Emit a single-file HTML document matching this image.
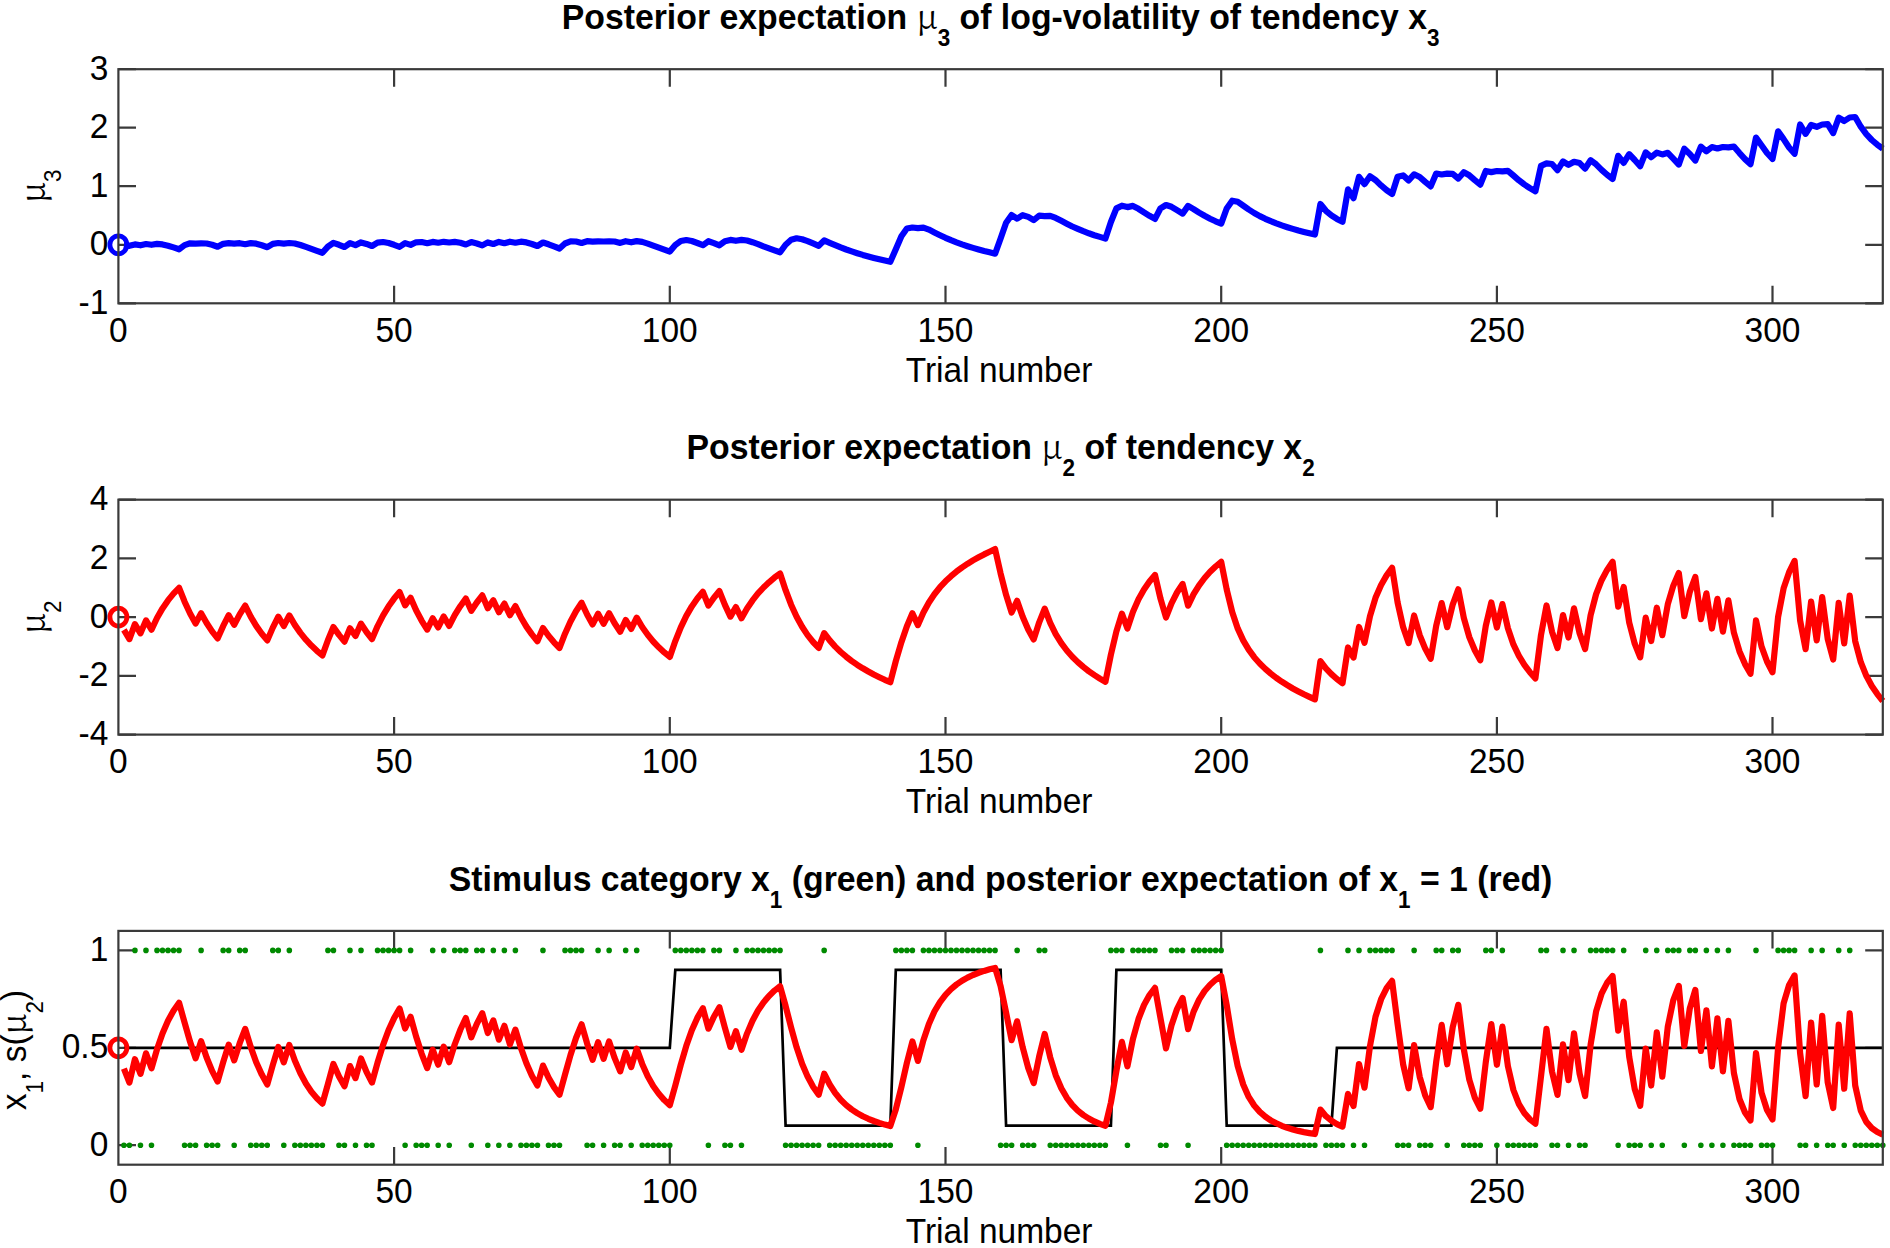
<!DOCTYPE html>
<html><head><meta charset="utf-8"><title>HGF trajectories</title><style>
html,body{margin:0;padding:0;background:#fff;}
body{width:1890px;height:1248px;overflow:hidden;}
svg{display:block;}
.tk{font-family:"Liberation Sans",Arial,Helvetica,sans-serif;font-size:33.5px;fill:#000;}
.ti{font-family:"Liberation Sans",Arial,Helvetica,sans-serif;font-size:33.8px;font-weight:bold;fill:#000;}
.sym{font-family:"Noto Serif CJK SC","Liberation Serif",serif;font-weight:normal;}
.sub{font-size:22.5px;}
.subn{font-size:22.5px;font-weight:normal;}
</style></head><body>
<svg width="1890" height="1248" viewBox="0 0 1890 1248">
<rect width="1890" height="1248" fill="#fff"/>
<path d="M394.1,303.3V285.7M394.1,69.2V86.8M669.8,303.3V285.7M669.8,69.2V86.8M945.5,303.3V285.7M945.5,69.2V86.8M1221.2,303.3V285.7M1221.2,69.2V86.8M1496.9,303.3V285.7M1496.9,69.2V86.8M1772.5,303.3V285.7M1772.5,69.2V86.8M118.4,303.3H136.0M1882.8,303.3H1865.2M118.4,244.8H136.0M1882.8,244.8H1865.2M118.4,186.2H136.0M1882.8,186.2H1865.2M118.4,127.7H136.0M1882.8,127.7H1865.2M118.4,69.2H136.0M1882.8,69.2H1865.2" stroke="#3a3a3a" stroke-width="2.2" fill="none"/>
<path d="M394.1,734.6V717.0M394.1,499.7V517.3M669.8,734.6V717.0M669.8,499.7V517.3M945.5,734.6V717.0M945.5,499.7V517.3M1221.2,734.6V717.0M1221.2,499.7V517.3M1496.9,734.6V717.0M1496.9,499.7V517.3M1772.5,734.6V717.0M1772.5,499.7V517.3M118.4,734.6H136.0M1882.8,734.6H1865.2M118.4,675.9H136.0M1882.8,675.9H1865.2M118.4,617.1H136.0M1882.8,617.1H1865.2M118.4,558.4H136.0M1882.8,558.4H1865.2M118.4,499.7H136.0M1882.8,499.7H1865.2" stroke="#3a3a3a" stroke-width="2.2" fill="none"/>
<path d="M394.1,1164.7V1147.1M394.1,930.9V948.5M669.8,1164.7V1147.1M669.8,930.9V948.5M945.5,1164.7V1147.1M945.5,930.9V948.5M1221.2,1164.7V1147.1M1221.2,930.9V948.5M1496.9,1164.7V1147.1M1496.9,930.9V948.5M1772.5,1164.7V1147.1M1772.5,930.9V948.5M118.4,1145.2H136.0M1882.8,1145.2H1865.2M118.4,1047.8H136.0M1882.8,1047.8H1865.2M118.4,950.4H136.0M1882.8,950.4H1865.2" stroke="#3a3a3a" stroke-width="2.2" fill="none"/>
<polyline points="123.9,245.1 129.4,245.8 134.9,244.4 140.5,245.3 146.0,244.0 151.5,244.8 157.0,243.9 162.5,244.4 168.0,245.7 173.5,247.4 179.1,249.3 184.6,245.1 190.1,243.3 195.6,243.6 201.1,243.4 206.6,243.5 212.1,244.8 217.6,246.7 223.2,243.8 228.7,243.2 234.2,243.6 239.7,243.2 245.2,244.2 250.7,243.1 256.2,243.7 261.8,245.3 267.3,247.2 272.8,243.9 278.3,243.0 283.8,243.6 289.3,243.0 294.8,243.5 300.4,245.0 305.9,246.9 311.4,248.9 316.9,250.9 322.4,252.8 327.9,246.6 333.4,242.9 339.0,244.8 344.5,247.0 350.0,243.1 355.5,245.1 361.0,242.4 366.5,243.9 372.0,246.0 377.5,242.7 383.1,242.0 388.6,243.0 394.1,244.8 399.6,246.8 405.1,243.1 410.6,244.9 416.1,242.3 421.7,242.0 427.2,243.2 432.7,241.9 438.2,242.7 443.7,241.8 449.2,242.5 454.7,241.9 460.3,242.8 465.8,244.5 471.3,242.1 476.8,243.5 482.3,245.4 487.8,242.4 493.3,244.0 498.9,241.9 504.4,243.2 509.9,241.7 515.4,242.7 520.9,241.7 526.4,242.4 531.9,244.0 537.4,246.0 543.0,242.5 548.5,244.3 554.0,246.4 559.5,248.5 565.0,243.5 570.5,241.4 576.0,241.5 581.6,243.0 587.1,241.2 592.6,241.6 598.1,241.3 603.6,241.5 609.1,241.3 614.6,241.5 620.2,242.9 625.7,241.2 631.2,242.3 636.7,241.1 642.2,241.9 647.7,243.6 653.2,245.6 658.8,247.6 664.3,249.6 669.8,251.6 675.3,245.0 680.8,241.0 686.3,240.0 691.8,241.0 697.3,243.0 702.9,245.2 708.4,241.2 713.9,243.1 719.4,245.3 724.9,241.2 730.4,239.9 735.9,240.8 741.5,239.9 747.0,240.5 752.5,242.2 758.0,244.2 763.5,246.4 769.0,248.4 774.5,250.4 780.1,252.3 785.6,244.7 791.1,239.8 796.6,238.3 802.1,239.2 807.6,241.1 813.1,243.4 818.7,245.8 824.2,240.4 829.7,242.8 835.2,245.1 840.7,247.4 846.2,249.5 851.7,251.4 857.2,253.2 862.8,254.9 868.3,256.4 873.8,257.9 879.3,259.3 884.8,260.6 890.3,261.8 895.8,249.3 901.4,236.3 906.9,228.5 912.4,227.5 917.9,228.1 923.4,227.6 928.9,229.6 934.4,232.4 940.0,235.2 945.5,237.8 951.0,240.2 956.5,242.4 962.0,244.4 967.5,246.2 973.0,247.9 978.6,249.5 984.1,251.0 989.6,252.3 995.1,253.7 1000.6,238.5 1006.1,222.7 1011.6,215.1 1017.1,218.6 1022.7,215.2 1028.2,216.9 1033.7,220.1 1039.2,215.7 1044.7,216.1 1050.2,215.8 1055.7,217.9 1061.3,220.8 1066.8,223.7 1072.3,226.5 1077.8,228.9 1083.3,231.2 1088.8,233.3 1094.3,235.2 1099.9,236.9 1105.4,238.6 1110.9,222.0 1116.4,208.4 1121.9,205.7 1127.4,207.1 1132.9,205.9 1138.5,208.8 1144.0,212.4 1149.5,215.8 1155.0,218.9 1160.5,208.3 1166.0,205.0 1171.5,206.8 1177.0,210.1 1182.6,213.6 1188.1,205.9 1193.6,209.1 1199.1,212.6 1204.6,215.8 1210.1,218.7 1215.6,221.3 1221.2,223.6 1226.7,208.5 1232.2,200.7 1237.7,201.8 1243.2,205.6 1248.7,209.5 1254.2,213.0 1259.8,216.1 1265.3,218.8 1270.8,221.2 1276.3,223.4 1281.8,225.4 1287.3,227.2 1292.8,228.9 1298.4,230.5 1303.9,231.9 1309.4,233.3 1314.9,234.6 1320.4,204.0 1325.9,210.8 1331.4,215.4 1336.9,218.9 1342.5,221.8 1348.0,189.4 1353.5,198.2 1359.0,176.8 1364.5,184.1 1370.0,176.3 1375.5,180.1 1381.1,185.4 1386.6,190.1 1392.1,194.0 1397.6,176.8 1403.1,175.4 1408.6,180.4 1414.1,174.3 1419.7,177.0 1425.2,181.9 1430.7,186.4 1436.2,173.5 1441.7,174.5 1447.2,173.6 1452.7,173.9 1458.3,178.5 1463.8,172.2 1469.3,175.3 1474.8,180.1 1480.3,184.6 1485.8,171.0 1491.3,172.1 1496.9,171.0 1502.4,171.4 1507.9,170.9 1513.4,175.5 1518.9,180.3 1524.4,184.5 1529.9,188.1 1535.4,191.3 1541.0,165.8 1546.5,163.4 1552.0,164.0 1557.5,170.1 1563.0,161.5 1568.5,164.9 1574.0,161.8 1579.6,163.1 1585.1,168.6 1590.6,160.2 1596.1,164.3 1601.6,169.9 1607.1,174.8 1612.6,178.9 1618.2,155.8 1623.7,162.9 1629.2,154.2 1634.7,160.0 1640.2,166.2 1645.7,152.4 1651.2,157.2 1656.8,152.6 1662.3,154.4 1667.8,152.8 1673.3,158.7 1678.8,164.5 1684.3,148.7 1689.8,153.9 1695.3,160.5 1700.9,146.7 1706.4,151.3 1711.9,147.1 1717.4,148.5 1722.9,147.0 1728.4,147.3 1733.9,146.6 1739.5,153.1 1745.0,159.1 1750.5,164.1 1756.0,137.6 1761.5,145.2 1767.0,153.0 1772.5,158.9 1778.1,131.4 1783.6,139.1 1789.1,147.5 1794.6,153.8 1800.1,124.5 1805.6,133.8 1811.1,125.0 1816.7,126.8 1822.2,124.5 1827.7,124.1 1833.2,133.0 1838.7,117.7 1844.2,121.0 1849.7,117.5 1855.2,117.0 1860.8,126.7 1866.3,134.2 1871.8,140.0 1877.3,144.7 1882.8,148.6" fill="none" stroke="#0000ff" stroke-width="6.2" stroke-linejoin="round"/>
<ellipse cx="118.4" cy="244.8" rx="8.5" ry="9.0" fill="none" stroke="#0000ff" stroke-width="4.8"/>
<rect x="118.4" y="69.2" width="1764.4" height="234.1" stroke="#3a3a3a" stroke-width="2.2" fill="none"/>
<text class="tk" transform="translate(118.4,341.9) scale(1,1.06)" text-anchor="middle">0</text>
<text class="tk" transform="translate(394.1,341.9) scale(1,1.06)" text-anchor="middle">50</text>
<text class="tk" transform="translate(669.8,341.9) scale(1,1.06)" text-anchor="middle">100</text>
<text class="tk" transform="translate(945.5,341.9) scale(1,1.06)" text-anchor="middle">150</text>
<text class="tk" transform="translate(1221.2,341.9) scale(1,1.06)" text-anchor="middle">200</text>
<text class="tk" transform="translate(1496.9,341.9) scale(1,1.06)" text-anchor="middle">250</text>
<text class="tk" transform="translate(1772.5,341.9) scale(1,1.06)" text-anchor="middle">300</text>
<text class="tk" transform="translate(108.3,313.8) scale(1,1.06)" text-anchor="end">-1</text>
<text class="tk" transform="translate(108.3,255.3) scale(1,1.06)" text-anchor="end">0</text>
<text class="tk" transform="translate(108.3,196.8) scale(1,1.06)" text-anchor="end">1</text>
<text class="tk" transform="translate(108.3,138.2) scale(1,1.06)" text-anchor="end">2</text>
<text class="tk" transform="translate(108.3,79.7) scale(1,1.06)" text-anchor="end">3</text>
<text class="tk" transform="translate(999.1,381.5) scale(1,1.06)" text-anchor="middle">Trial number</text>
<polyline points="123.9,629.9 129.4,639.1 134.9,624.1 140.5,633.3 146.0,620.4 151.5,629.7 157.0,618.0 162.5,608.4 168.0,600.4 173.5,593.6 179.1,587.8 184.6,601.7 190.1,613.5 195.6,623.5 201.1,613.2 206.6,623.0 212.1,631.4 217.6,638.4 223.2,625.9 228.7,615.2 234.2,624.8 239.7,614.4 245.2,605.6 250.7,616.6 256.2,625.9 261.8,633.7 267.3,640.4 272.8,627.6 278.3,616.7 283.8,626.0 289.3,615.4 294.8,624.9 300.4,632.9 305.9,639.7 311.4,645.6 316.9,650.8 322.4,655.4 327.9,640.2 333.4,627.0 339.0,634.9 344.5,641.6 350.0,628.3 355.5,636.0 361.0,623.6 366.5,632.0 372.0,639.1 377.5,626.3 383.1,615.4 388.6,606.3 394.1,598.6 399.6,592.1 405.1,605.4 410.6,597.8 416.1,610.3 421.7,620.8 427.2,629.6 432.7,618.3 438.2,627.4 443.7,616.5 449.2,625.9 454.7,615.2 460.3,606.2 465.8,598.6 471.3,610.8 476.8,602.5 482.3,595.4 487.8,608.2 493.3,600.2 498.9,612.3 504.4,603.6 509.9,615.2 515.4,606.1 520.9,617.2 526.4,626.6 531.9,634.4 537.4,641.2 543.0,628.0 548.5,635.7 554.0,642.3 559.5,648.0 565.0,633.7 570.5,621.5 576.0,611.2 581.6,602.7 587.1,614.5 592.6,624.4 598.1,613.8 603.6,623.7 609.1,613.3 614.6,623.3 620.2,631.7 625.7,620.0 631.2,628.9 636.7,617.7 642.2,627.0 647.7,634.8 653.2,641.5 658.8,647.3 664.3,652.4 669.8,656.9 675.3,641.1 680.8,627.4 686.3,615.9 691.8,606.4 697.3,598.5 702.9,591.8 708.4,605.5 713.9,597.7 719.4,591.1 724.9,604.9 730.4,616.6 735.9,607.1 741.5,618.3 747.0,608.5 752.5,600.4 758.0,593.4 763.5,587.5 769.0,582.3 774.5,577.6 780.1,573.5 785.6,590.2 791.1,604.7 796.6,616.8 802.1,626.8 807.6,635.1 813.1,642.0 818.7,647.9 824.2,633.2 829.7,640.4 835.2,646.6 840.7,652.0 846.2,656.7 851.7,661.0 857.2,664.8 862.8,668.3 868.3,671.5 873.8,674.5 879.3,677.2 884.8,679.8 890.3,682.2 895.8,661.1 901.4,642.2 906.9,626.2 912.4,613.3 917.9,625.1 923.4,612.6 928.9,602.5 934.4,594.2 940.0,587.2 945.5,581.3 951.0,576.2 956.5,571.6 962.0,567.5 967.5,563.8 973.0,560.4 978.6,557.3 984.1,554.4 989.6,551.7 995.1,549.1 1000.6,573.4 1006.1,594.9 1011.6,612.5 1017.1,600.8 1022.7,616.8 1028.2,629.4 1033.7,639.4 1039.2,622.3 1044.7,608.7 1050.2,622.9 1055.7,634.1 1061.3,643.1 1066.8,650.5 1072.3,656.7 1077.8,662.1 1083.3,666.9 1088.8,671.2 1094.3,675.0 1099.9,678.6 1105.4,681.8 1110.9,654.6 1116.4,631.4 1121.9,613.6 1127.4,628.5 1132.9,611.9 1138.5,599.3 1144.0,589.5 1149.5,581.6 1155.0,575.0 1160.5,598.7 1166.0,617.5 1171.5,603.3 1177.0,592.5 1182.6,583.9 1188.1,605.7 1193.6,594.2 1199.1,585.3 1204.6,578.0 1210.1,571.8 1215.6,566.5 1221.2,561.8 1226.7,589.5 1232.2,612.0 1237.7,628.4 1243.2,640.4 1248.7,649.7 1254.2,657.2 1259.8,663.5 1265.3,668.9 1270.8,673.6 1276.3,677.9 1281.8,681.7 1287.3,685.2 1292.8,688.5 1298.4,691.5 1303.9,694.3 1309.4,696.9 1314.9,699.4 1320.4,661.1 1325.9,668.3 1331.4,674.1 1336.9,679.0 1342.5,683.2 1348.0,647.5 1353.5,657.6 1359.0,627.0 1364.5,642.7 1370.0,616.1 1375.5,597.8 1381.1,585.0 1386.6,575.4 1392.1,567.7 1397.6,602.5 1403.1,627.1 1408.6,643.1 1414.1,615.5 1419.7,635.2 1425.2,648.6 1430.7,658.7 1436.2,625.7 1441.7,603.1 1447.2,627.2 1452.7,604.6 1458.3,589.3 1463.8,617.9 1469.3,637.1 1474.8,650.3 1480.3,660.3 1485.8,625.8 1491.3,602.5 1496.9,627.5 1502.4,604.1 1507.9,628.3 1513.4,644.4 1518.9,655.9 1524.4,664.9 1529.9,672.2 1535.4,678.4 1541.0,635.0 1546.5,605.5 1552.0,631.7 1557.5,648.1 1563.0,615.1 1568.5,637.5 1574.0,608.4 1579.6,633.2 1585.1,649.1 1590.6,615.3 1596.1,594.1 1601.6,580.2 1607.1,569.9 1612.6,561.7 1618.2,606.7 1623.7,587.0 1629.2,622.5 1634.7,643.7 1640.2,657.4 1645.7,617.6 1651.2,641.1 1656.8,607.7 1662.3,635.1 1667.8,604.2 1673.3,585.7 1678.8,573.0 1684.3,616.1 1689.8,591.9 1695.3,577.0 1700.9,619.1 1706.4,593.3 1711.9,628.5 1717.4,598.8 1722.9,631.6 1728.4,600.4 1733.9,632.7 1739.5,651.4 1745.0,664.1 1750.5,673.7 1756.0,620.3 1761.5,646.4 1767.0,661.5 1772.5,672.3 1778.1,616.9 1783.6,588.3 1789.1,572.2 1794.6,560.9 1800.1,620.3 1805.6,649.1 1811.1,601.6 1816.7,640.4 1822.2,597.1 1827.7,638.9 1833.2,659.5 1838.7,602.9 1844.2,643.4 1849.7,595.5 1855.2,641.2 1860.8,662.2 1866.3,675.8 1871.8,686.0 1877.3,694.1 1882.8,701.0" fill="none" stroke="#ff0000" stroke-width="6.2" stroke-linejoin="round"/>
<ellipse cx="118.4" cy="617.1" rx="8.5" ry="9.0" fill="none" stroke="#ff0000" stroke-width="4.8"/>
<rect x="118.4" y="499.7" width="1764.4" height="234.9" stroke="#3a3a3a" stroke-width="2.2" fill="none"/>
<text class="tk" transform="translate(118.4,773.2) scale(1,1.06)" text-anchor="middle">0</text>
<text class="tk" transform="translate(394.1,773.2) scale(1,1.06)" text-anchor="middle">50</text>
<text class="tk" transform="translate(669.8,773.2) scale(1,1.06)" text-anchor="middle">100</text>
<text class="tk" transform="translate(945.5,773.2) scale(1,1.06)" text-anchor="middle">150</text>
<text class="tk" transform="translate(1221.2,773.2) scale(1,1.06)" text-anchor="middle">200</text>
<text class="tk" transform="translate(1496.9,773.2) scale(1,1.06)" text-anchor="middle">250</text>
<text class="tk" transform="translate(1772.5,773.2) scale(1,1.06)" text-anchor="middle">300</text>
<text class="tk" transform="translate(108.3,745.1) scale(1,1.06)" text-anchor="end">-4</text>
<text class="tk" transform="translate(108.3,686.4) scale(1,1.06)" text-anchor="end">-2</text>
<text class="tk" transform="translate(108.3,627.6) scale(1,1.06)" text-anchor="end">0</text>
<text class="tk" transform="translate(108.3,568.9) scale(1,1.06)" text-anchor="end">2</text>
<text class="tk" transform="translate(108.3,510.2) scale(1,1.06)" text-anchor="end">4</text>
<text class="tk" transform="translate(999.1,812.8) scale(1,1.06)" text-anchor="middle">Trial number</text>
<path d="M123.91,1145.2h0M129.43,1145.2h0M134.94,950.4h0M140.46,1145.2h0M145.97,950.4h0M151.48,1145.2h0M157.00,950.4h0M162.51,950.4h0M168.02,950.4h0M173.54,950.4h0M179.05,950.4h0M184.57,1145.2h0M190.08,1145.2h0M195.59,1145.2h0M201.11,950.4h0M206.62,1145.2h0M212.13,1145.2h0M217.65,1145.2h0M223.16,950.4h0M228.68,950.4h0M234.19,1145.2h0M239.70,950.4h0M245.22,950.4h0M250.73,1145.2h0M256.25,1145.2h0M261.76,1145.2h0M267.27,1145.2h0M272.79,950.4h0M278.30,950.4h0M283.81,1145.2h0M289.33,950.4h0M294.84,1145.2h0M300.36,1145.2h0M305.87,1145.2h0M311.38,1145.2h0M316.90,1145.2h0M322.41,1145.2h0M327.92,950.4h0M333.44,950.4h0M338.95,1145.2h0M344.47,1145.2h0M349.98,950.4h0M355.49,1145.2h0M361.01,950.4h0M366.52,1145.2h0M372.03,1145.2h0M377.55,950.4h0M383.06,950.4h0M388.58,950.4h0M394.09,950.4h0M399.60,950.4h0M405.12,1145.2h0M410.63,950.4h0M416.15,1145.2h0M421.66,1145.2h0M427.17,1145.2h0M432.69,950.4h0M438.20,1145.2h0M443.71,950.4h0M449.23,1145.2h0M454.74,950.4h0M460.26,950.4h0M465.77,950.4h0M471.28,1145.2h0M476.80,950.4h0M482.31,950.4h0M487.82,1145.2h0M493.34,950.4h0M498.85,1145.2h0M504.37,950.4h0M509.88,1145.2h0M515.39,950.4h0M520.91,1145.2h0M526.42,1145.2h0M531.93,1145.2h0M537.45,1145.2h0M542.96,950.4h0M548.48,1145.2h0M553.99,1145.2h0M559.50,1145.2h0M565.02,950.4h0M570.53,950.4h0M576.05,950.4h0M581.56,950.4h0M587.07,1145.2h0M592.59,1145.2h0M598.10,950.4h0M603.61,1145.2h0M609.13,950.4h0M614.64,1145.2h0M620.16,1145.2h0M625.67,950.4h0M631.18,1145.2h0M636.70,950.4h0M642.21,1145.2h0M647.72,1145.2h0M653.24,1145.2h0M658.75,1145.2h0M664.27,1145.2h0M669.78,1145.2h0M675.29,950.4h0M680.81,950.4h0M686.32,950.4h0M691.84,950.4h0M697.35,950.4h0M702.86,950.4h0M708.38,1145.2h0M713.89,950.4h0M719.40,950.4h0M724.92,1145.2h0M730.43,1145.2h0M735.95,950.4h0M741.46,1145.2h0M746.97,950.4h0M752.49,950.4h0M758.00,950.4h0M763.51,950.4h0M769.03,950.4h0M774.54,950.4h0M780.06,950.4h0M785.57,1145.2h0M791.08,1145.2h0M796.60,1145.2h0M802.11,1145.2h0M807.62,1145.2h0M813.14,1145.2h0M818.65,1145.2h0M824.17,950.4h0M829.68,1145.2h0M835.19,1145.2h0M840.71,1145.2h0M846.22,1145.2h0M851.74,1145.2h0M857.25,1145.2h0M862.76,1145.2h0M868.28,1145.2h0M873.79,1145.2h0M879.30,1145.2h0M884.82,1145.2h0M890.33,1145.2h0M895.85,950.4h0M901.36,950.4h0M906.87,950.4h0M912.39,950.4h0M917.90,1145.2h0M923.41,950.4h0M928.93,950.4h0M934.44,950.4h0M939.96,950.4h0M945.47,950.4h0M950.98,950.4h0M956.50,950.4h0M962.01,950.4h0M967.53,950.4h0M973.04,950.4h0M978.55,950.4h0M984.07,950.4h0M989.58,950.4h0M995.09,950.4h0M1000.61,1145.2h0M1006.12,1145.2h0M1011.64,1145.2h0M1017.15,950.4h0M1022.66,1145.2h0M1028.18,1145.2h0M1033.69,1145.2h0M1039.20,950.4h0M1044.72,950.4h0M1050.23,1145.2h0M1055.75,1145.2h0M1061.26,1145.2h0M1066.77,1145.2h0M1072.29,1145.2h0M1077.80,1145.2h0M1083.32,1145.2h0M1088.83,1145.2h0M1094.34,1145.2h0M1099.86,1145.2h0M1105.37,1145.2h0M1110.88,950.4h0M1116.40,950.4h0M1121.91,950.4h0M1127.43,1145.2h0M1132.94,950.4h0M1138.45,950.4h0M1143.97,950.4h0M1149.48,950.4h0M1154.99,950.4h0M1160.51,1145.2h0M1166.02,1145.2h0M1171.54,950.4h0M1177.05,950.4h0M1182.56,950.4h0M1188.08,1145.2h0M1193.59,950.4h0M1199.10,950.4h0M1204.62,950.4h0M1210.13,950.4h0M1215.65,950.4h0M1221.16,950.4h0M1226.67,1145.2h0M1232.19,1145.2h0M1237.70,1145.2h0M1243.22,1145.2h0M1248.73,1145.2h0M1254.24,1145.2h0M1259.76,1145.2h0M1265.27,1145.2h0M1270.78,1145.2h0M1276.30,1145.2h0M1281.81,1145.2h0M1287.33,1145.2h0M1292.84,1145.2h0M1298.35,1145.2h0M1303.87,1145.2h0M1309.38,1145.2h0M1314.89,1145.2h0M1320.41,950.4h0M1325.92,1145.2h0M1331.44,1145.2h0M1336.95,1145.2h0M1342.46,1145.2h0M1347.98,950.4h0M1353.49,1145.2h0M1359.01,950.4h0M1364.52,1145.2h0M1370.03,950.4h0M1375.55,950.4h0M1381.06,950.4h0M1386.57,950.4h0M1392.09,950.4h0M1397.60,1145.2h0M1403.12,1145.2h0M1408.63,1145.2h0M1414.14,950.4h0M1419.66,1145.2h0M1425.17,1145.2h0M1430.68,1145.2h0M1436.20,950.4h0M1441.71,950.4h0M1447.23,1145.2h0M1452.74,950.4h0M1458.25,950.4h0M1463.77,1145.2h0M1469.28,1145.2h0M1474.79,1145.2h0M1480.31,1145.2h0M1485.82,950.4h0M1491.34,950.4h0M1496.85,1145.2h0M1502.36,950.4h0M1507.88,1145.2h0M1513.39,1145.2h0M1518.91,1145.2h0M1524.42,1145.2h0M1529.93,1145.2h0M1535.45,1145.2h0M1540.96,950.4h0M1546.47,950.4h0M1551.99,1145.2h0M1557.50,1145.2h0M1563.02,950.4h0M1568.53,1145.2h0M1574.04,950.4h0M1579.56,1145.2h0M1585.07,1145.2h0M1590.58,950.4h0M1596.10,950.4h0M1601.61,950.4h0M1607.13,950.4h0M1612.64,950.4h0M1618.15,1145.2h0M1623.67,950.4h0M1629.18,1145.2h0M1634.69,1145.2h0M1640.21,1145.2h0M1645.72,950.4h0M1651.24,1145.2h0M1656.75,950.4h0M1662.26,1145.2h0M1667.78,950.4h0M1673.29,950.4h0M1678.81,950.4h0M1684.32,1145.2h0M1689.83,950.4h0M1695.35,950.4h0M1700.86,1145.2h0M1706.37,950.4h0M1711.89,1145.2h0M1717.40,950.4h0M1722.92,1145.2h0M1728.43,950.4h0M1733.94,1145.2h0M1739.46,1145.2h0M1744.97,1145.2h0M1750.48,1145.2h0M1756.00,950.4h0M1761.51,1145.2h0M1767.03,1145.2h0M1772.54,1145.2h0M1778.05,950.4h0M1783.57,950.4h0M1789.08,950.4h0M1794.60,950.4h0M1800.11,1145.2h0M1805.62,1145.2h0M1811.14,950.4h0M1816.65,1145.2h0M1822.16,950.4h0M1827.68,1145.2h0M1833.19,1145.2h0M1838.71,950.4h0M1844.22,1145.2h0M1849.73,950.4h0M1855.25,1145.2h0M1860.76,1145.2h0M1866.27,1145.2h0M1871.79,1145.2h0M1877.30,1145.2h0M1882.82,1145.2h0" stroke="#008a00" stroke-width="5.6" stroke-linecap="round" fill="none"/>
<polyline points="123.9,1047.8 129.4,1047.8 134.9,1047.8 140.5,1047.8 146.0,1047.8 151.5,1047.8 157.0,1047.8 162.5,1047.8 168.0,1047.8 173.5,1047.8 179.1,1047.8 184.6,1047.8 190.1,1047.8 195.6,1047.8 201.1,1047.8 206.6,1047.8 212.1,1047.8 217.6,1047.8 223.2,1047.8 228.7,1047.8 234.2,1047.8 239.7,1047.8 245.2,1047.8 250.7,1047.8 256.2,1047.8 261.8,1047.8 267.3,1047.8 272.8,1047.8 278.3,1047.8 283.8,1047.8 289.3,1047.8 294.8,1047.8 300.4,1047.8 305.9,1047.8 311.4,1047.8 316.9,1047.8 322.4,1047.8 327.9,1047.8 333.4,1047.8 339.0,1047.8 344.5,1047.8 350.0,1047.8 355.5,1047.8 361.0,1047.8 366.5,1047.8 372.0,1047.8 377.5,1047.8 383.1,1047.8 388.6,1047.8 394.1,1047.8 399.6,1047.8 405.1,1047.8 410.6,1047.8 416.1,1047.8 421.7,1047.8 427.2,1047.8 432.7,1047.8 438.2,1047.8 443.7,1047.8 449.2,1047.8 454.7,1047.8 460.3,1047.8 465.8,1047.8 471.3,1047.8 476.8,1047.8 482.3,1047.8 487.8,1047.8 493.3,1047.8 498.9,1047.8 504.4,1047.8 509.9,1047.8 515.4,1047.8 520.9,1047.8 526.4,1047.8 531.9,1047.8 537.4,1047.8 543.0,1047.8 548.5,1047.8 554.0,1047.8 559.5,1047.8 565.0,1047.8 570.5,1047.8 576.0,1047.8 581.6,1047.8 587.1,1047.8 592.6,1047.8 598.1,1047.8 603.6,1047.8 609.1,1047.8 614.6,1047.8 620.2,1047.8 625.7,1047.8 631.2,1047.8 636.7,1047.8 642.2,1047.8 647.7,1047.8 653.2,1047.8 658.8,1047.8 664.3,1047.8 669.8,1047.8 675.3,969.9 680.8,969.9 686.3,969.9 691.8,969.9 697.3,969.9 702.9,969.9 708.4,969.9 713.9,969.9 719.4,969.9 724.9,969.9 730.4,969.9 735.9,969.9 741.5,969.9 747.0,969.9 752.5,969.9 758.0,969.9 763.5,969.9 769.0,969.9 774.5,969.9 780.1,969.9 785.6,1125.7 791.1,1125.7 796.6,1125.7 802.1,1125.7 807.6,1125.7 813.1,1125.7 818.7,1125.7 824.2,1125.7 829.7,1125.7 835.2,1125.7 840.7,1125.7 846.2,1125.7 851.7,1125.7 857.2,1125.7 862.8,1125.7 868.3,1125.7 873.8,1125.7 879.3,1125.7 884.8,1125.7 890.3,1125.7 895.8,969.9 901.4,969.9 906.9,969.9 912.4,969.9 917.9,969.9 923.4,969.9 928.9,969.9 934.4,969.9 940.0,969.9 945.5,969.9 951.0,969.9 956.5,969.9 962.0,969.9 967.5,969.9 973.0,969.9 978.6,969.9 984.1,969.9 989.6,969.9 995.1,969.9 1000.6,969.9 1006.1,1125.7 1011.6,1125.7 1017.1,1125.7 1022.7,1125.7 1028.2,1125.7 1033.7,1125.7 1039.2,1125.7 1044.7,1125.7 1050.2,1125.7 1055.7,1125.7 1061.3,1125.7 1066.8,1125.7 1072.3,1125.7 1077.8,1125.7 1083.3,1125.7 1088.8,1125.7 1094.3,1125.7 1099.9,1125.7 1105.4,1125.7 1110.9,1125.7 1116.4,969.9 1121.9,969.9 1127.4,969.9 1132.9,969.9 1138.5,969.9 1144.0,969.9 1149.5,969.9 1155.0,969.9 1160.5,969.9 1166.0,969.9 1171.5,969.9 1177.0,969.9 1182.6,969.9 1188.1,969.9 1193.6,969.9 1199.1,969.9 1204.6,969.9 1210.1,969.9 1215.6,969.9 1221.2,969.9 1226.7,1125.7 1232.2,1125.7 1237.7,1125.7 1243.2,1125.7 1248.7,1125.7 1254.2,1125.7 1259.8,1125.7 1265.3,1125.7 1270.8,1125.7 1276.3,1125.7 1281.8,1125.7 1287.3,1125.7 1292.8,1125.7 1298.4,1125.7 1303.9,1125.7 1309.4,1125.7 1314.9,1125.7 1320.4,1125.7 1325.9,1125.7 1331.4,1125.7 1336.9,1047.8 1342.5,1047.8 1348.0,1047.8 1353.5,1047.8 1359.0,1047.8 1364.5,1047.8 1370.0,1047.8 1375.5,1047.8 1381.1,1047.8 1386.6,1047.8 1392.1,1047.8 1397.6,1047.8 1403.1,1047.8 1408.6,1047.8 1414.1,1047.8 1419.7,1047.8 1425.2,1047.8 1430.7,1047.8 1436.2,1047.8 1441.7,1047.8 1447.2,1047.8 1452.7,1047.8 1458.3,1047.8 1463.8,1047.8 1469.3,1047.8 1474.8,1047.8 1480.3,1047.8 1485.8,1047.8 1491.3,1047.8 1496.9,1047.8 1502.4,1047.8 1507.9,1047.8 1513.4,1047.8 1518.9,1047.8 1524.4,1047.8 1529.9,1047.8 1535.4,1047.8 1541.0,1047.8 1546.5,1047.8 1552.0,1047.8 1557.5,1047.8 1563.0,1047.8 1568.5,1047.8 1574.0,1047.8 1579.6,1047.8 1585.1,1047.8 1590.6,1047.8 1596.1,1047.8 1601.6,1047.8 1607.1,1047.8 1612.6,1047.8 1618.2,1047.8 1623.7,1047.8 1629.2,1047.8 1634.7,1047.8 1640.2,1047.8 1645.7,1047.8 1651.2,1047.8 1656.8,1047.8 1662.3,1047.8 1667.8,1047.8 1673.3,1047.8 1678.8,1047.8 1684.3,1047.8 1689.8,1047.8 1695.3,1047.8 1700.9,1047.8 1706.4,1047.8 1711.9,1047.8 1717.4,1047.8 1722.9,1047.8 1728.4,1047.8 1733.9,1047.8 1739.5,1047.8 1745.0,1047.8 1750.5,1047.8 1756.0,1047.8 1761.5,1047.8 1767.0,1047.8 1772.5,1047.8 1778.1,1047.8 1783.6,1047.8 1789.1,1047.8 1794.6,1047.8 1800.1,1047.8 1805.6,1047.8 1811.1,1047.8 1816.7,1047.8 1822.2,1047.8 1827.7,1047.8 1833.2,1047.8 1838.7,1047.8 1844.2,1047.8 1849.7,1047.8 1855.2,1047.8 1860.8,1047.8 1866.3,1047.8 1871.8,1047.8 1877.3,1047.8 1882.8,1047.8" fill="none" stroke="#000" stroke-width="2.7"/>
<polyline points="123.9,1068.6 129.4,1082.6 134.9,1059.2 140.5,1073.9 146.0,1053.3 151.5,1068.3 157.0,1049.3 162.5,1033.4 168.0,1020.7 173.5,1010.7 179.1,1002.8 184.6,1022.7 190.1,1041.8 195.6,1058.2 201.1,1041.2 206.6,1057.5 212.1,1070.9 217.6,1081.6 223.2,1062.2 228.7,1044.6 234.2,1060.4 239.7,1043.2 245.2,1028.9 250.7,1046.9 256.2,1062.2 261.8,1074.6 267.3,1084.5 272.8,1065.0 278.3,1047.0 283.8,1062.4 289.3,1044.9 294.8,1060.6 300.4,1073.3 305.9,1083.5 311.4,1091.7 316.9,1098.2 322.4,1103.6 327.9,1084.2 333.4,1063.9 339.0,1076.4 344.5,1086.2 350.0,1066.1 355.5,1078.1 361.0,1058.5 366.5,1071.9 372.0,1082.6 377.5,1062.8 383.1,1044.9 388.6,1030.0 394.1,1018.1 399.6,1008.6 405.1,1028.5 410.6,1016.8 416.1,1036.5 421.7,1053.8 427.2,1068.1 432.7,1049.6 438.2,1064.7 443.7,1046.6 449.2,1062.2 454.7,1044.5 460.3,1029.8 465.8,1018.0 471.3,1037.3 476.8,1023.9 482.3,1013.3 487.8,1033.0 493.3,1020.4 498.9,1039.7 504.4,1025.8 509.9,1044.5 515.4,1029.7 520.9,1047.9 526.4,1063.3 531.9,1075.7 537.4,1085.5 543.0,1065.6 548.5,1077.6 554.0,1087.1 559.5,1094.7 565.0,1074.6 570.5,1055.0 576.0,1038.0 581.6,1024.3 587.1,1043.4 592.6,1059.7 598.1,1042.2 603.6,1058.7 609.1,1041.4 614.6,1057.9 620.2,1071.4 625.7,1052.5 631.2,1067.1 636.7,1048.6 642.2,1063.9 647.7,1076.3 653.2,1086.0 658.8,1093.8 664.3,1100.1 669.8,1105.2 675.3,1085.5 680.8,1064.6 686.3,1045.8 691.8,1030.2 697.3,1017.9 702.9,1008.2 708.4,1028.7 713.9,1016.7 719.4,1007.3 724.9,1027.8 730.4,1046.9 735.9,1031.2 741.5,1049.7 747.0,1033.6 752.5,1020.7 758.0,1010.5 763.5,1002.4 769.0,995.9 774.5,990.6 780.1,986.3 785.6,1005.9 791.1,1027.5 796.6,1047.3 802.1,1063.7 807.6,1076.6 813.1,1086.7 818.7,1094.7 824.2,1073.7 829.7,1084.5 835.2,1093.0 840.7,1099.7 846.2,1105.1 851.7,1109.5 857.2,1113.1 862.8,1116.2 868.3,1118.8 873.8,1121.0 879.3,1122.9 884.8,1124.6 890.3,1126.1 895.8,1109.6 901.4,1087.0 906.9,1062.7 912.4,1041.4 917.9,1060.9 923.4,1040.3 928.9,1023.9 934.4,1011.5 940.0,1002.1 945.5,994.8 951.0,989.1 956.5,984.5 962.0,980.7 967.5,977.6 973.0,975.0 978.6,972.8 984.1,970.9 989.6,969.3 995.1,967.9 1000.6,986.2 1006.1,1012.6 1011.6,1040.1 1017.1,1021.3 1022.7,1047.3 1028.2,1067.9 1033.7,1083.0 1039.2,1056.3 1044.7,1033.9 1050.2,1057.3 1055.7,1075.2 1061.3,1088.2 1066.8,1097.8 1072.3,1105.0 1077.8,1110.6 1083.3,1115.0 1088.8,1118.5 1094.3,1121.4 1099.9,1123.8 1105.4,1125.8 1110.9,1102.6 1116.4,1070.9 1121.9,1041.9 1127.4,1066.4 1132.9,1039.1 1138.5,1019.0 1144.0,1005.0 1149.5,995.1 1155.0,987.9 1160.5,1018.2 1166.0,1048.4 1171.5,1025.2 1177.0,1009.1 1182.6,997.9 1188.1,1029.1 1193.6,1011.6 1199.1,999.6 1204.6,991.0 1210.1,984.7 1215.6,979.8 1221.2,976.1 1226.7,1005.1 1232.2,1039.2 1237.7,1066.2 1243.2,1084.5 1248.7,1096.9 1254.2,1105.5 1259.8,1111.9 1265.3,1116.6 1270.8,1120.4 1276.3,1123.3 1281.8,1125.8 1287.3,1127.8 1292.8,1129.4 1298.4,1130.9 1303.9,1132.1 1309.4,1133.1 1314.9,1134.0 1320.4,1109.6 1325.9,1116.2 1331.4,1120.7 1336.9,1124.1 1342.5,1126.6 1348.0,1094.0 1353.5,1106.0 1359.0,1064.0 1364.5,1087.7 1370.0,1046.0 1375.5,1016.8 1381.1,999.2 1386.6,988.2 1392.1,980.9 1397.6,1024.0 1403.1,1064.2 1408.6,1088.3 1414.1,1045.1 1419.7,1076.8 1425.2,1095.5 1430.7,1107.1 1436.2,1061.8 1441.7,1024.9 1447.2,1064.3 1452.7,1027.2 1458.3,1004.8 1463.8,1049.1 1469.3,1079.7 1474.8,1097.7 1480.3,1108.7 1485.8,1062.0 1491.3,1024.0 1496.9,1064.8 1502.4,1026.6 1507.9,1066.1 1513.4,1090.0 1518.9,1104.2 1524.4,1113.2 1529.9,1119.3 1535.4,1123.7 1541.0,1076.5 1546.5,1028.8 1552.0,1071.5 1557.5,1094.9 1563.0,1044.4 1568.5,1080.2 1574.0,1033.3 1579.6,1073.7 1585.1,1096.1 1590.6,1044.8 1596.1,1011.4 1601.6,993.5 1607.1,982.8 1612.6,976.0 1618.2,1030.6 1623.7,1001.7 1629.2,1056.7 1634.7,1089.0 1640.2,1105.8 1645.7,1048.5 1651.2,1085.5 1656.8,1032.3 1662.3,1076.7 1667.8,1026.7 1673.3,1000.1 1678.8,985.9 1684.3,1046.0 1689.8,1008.3 1695.3,989.9 1700.9,1051.0 1706.4,1010.3 1711.9,1066.3 1717.4,1018.3 1722.9,1071.3 1728.4,1020.8 1733.9,1073.0 1739.5,1099.0 1745.0,1112.5 1750.5,1120.5 1756.0,1053.0 1761.5,1092.6 1767.0,1110.0 1772.5,1119.4 1778.1,1047.5 1783.6,1003.4 1789.1,985.0 1794.6,975.4 1800.1,1053.0 1805.6,1096.1 1811.1,1022.6 1816.7,1084.4 1822.2,1015.8 1827.7,1082.4 1833.2,1108.0 1838.7,1024.6 1844.2,1088.7 1849.7,1013.4 1855.2,1085.5 1860.8,1110.7 1866.3,1121.9 1871.8,1128.1 1877.3,1132.0 1882.8,1134.6" fill="none" stroke="#ff0000" stroke-width="6.2" stroke-linejoin="round"/>
<ellipse cx="118.4" cy="1047.8" rx="8.5" ry="9.0" fill="none" stroke="#ff0000" stroke-width="4.8"/>
<rect x="118.4" y="930.9" width="1764.4" height="233.8" stroke="#3a3a3a" stroke-width="2.2" fill="none"/>
<text class="tk" transform="translate(118.4,1203.3) scale(1,1.06)" text-anchor="middle">0</text>
<text class="tk" transform="translate(394.1,1203.3) scale(1,1.06)" text-anchor="middle">50</text>
<text class="tk" transform="translate(669.8,1203.3) scale(1,1.06)" text-anchor="middle">100</text>
<text class="tk" transform="translate(945.5,1203.3) scale(1,1.06)" text-anchor="middle">150</text>
<text class="tk" transform="translate(1221.2,1203.3) scale(1,1.06)" text-anchor="middle">200</text>
<text class="tk" transform="translate(1496.9,1203.3) scale(1,1.06)" text-anchor="middle">250</text>
<text class="tk" transform="translate(1772.5,1203.3) scale(1,1.06)" text-anchor="middle">300</text>
<text class="tk" transform="translate(108.3,1155.7) scale(1,1.06)" text-anchor="end">0</text>
<text class="tk" transform="translate(108.3,1058.3) scale(1,1.06)" text-anchor="end">0.5</text>
<text class="tk" transform="translate(108.3,960.9) scale(1,1.06)" text-anchor="end">1</text>
<text class="tk" transform="translate(999.1,1242.9) scale(1,1.06)" text-anchor="middle">Trial number</text>
<text class="ti" transform="translate(1000.6,28.6) scale(1,1.06)" text-anchor="middle">Posterior expectation <tspan class="sym">μ</tspan><tspan class="sub" dy="16.3">3</tspan><tspan dy="-16.3"> of log-volatility of tendency x</tspan><tspan class="sub" dy="16.3">3</tspan></text>
<text class="ti" transform="translate(1000.6,459.0) scale(1,1.06)" text-anchor="middle">Posterior expectation <tspan class="sym">μ</tspan><tspan class="sub" dy="16.3">2</tspan><tspan dy="-16.3"> of tendency x</tspan><tspan class="sub" dy="16.3">2</tspan></text>
<text class="ti" transform="translate(1000.6,891.0) scale(1,1.06)" text-anchor="middle">Stimulus category x<tspan class="sub" dy="16.3">1</tspan><tspan dy="-16.3"> (green) and posterior expectation of x</tspan><tspan class="sub" dy="16.3">1</tspan><tspan dy="-16.3"> = 1 (red)</tspan></text>
<text class="tk" transform="translate(44.5,186.3) rotate(-90) scale(1,1.06)" text-anchor="middle"><tspan class="sym">μ</tspan><tspan class="sub" dy="16">3</tspan></text>
<text class="tk" transform="translate(44.5,617.2) rotate(-90) scale(1,1.06)" text-anchor="middle"><tspan class="sym">μ</tspan><tspan class="sub" dy="16">2</tspan></text>
<text class="tk" transform="translate(25.5,1050.0) rotate(-90) scale(1,1.06)" text-anchor="middle">x<tspan class="sub" dy="16.5">1</tspan><tspan dy="-16.5">, s(</tspan><tspan class="sym">μ</tspan><tspan class="sub" dy="16.5">2</tspan><tspan dy="-16.5">)</tspan></text>
</svg>
</body></html>
